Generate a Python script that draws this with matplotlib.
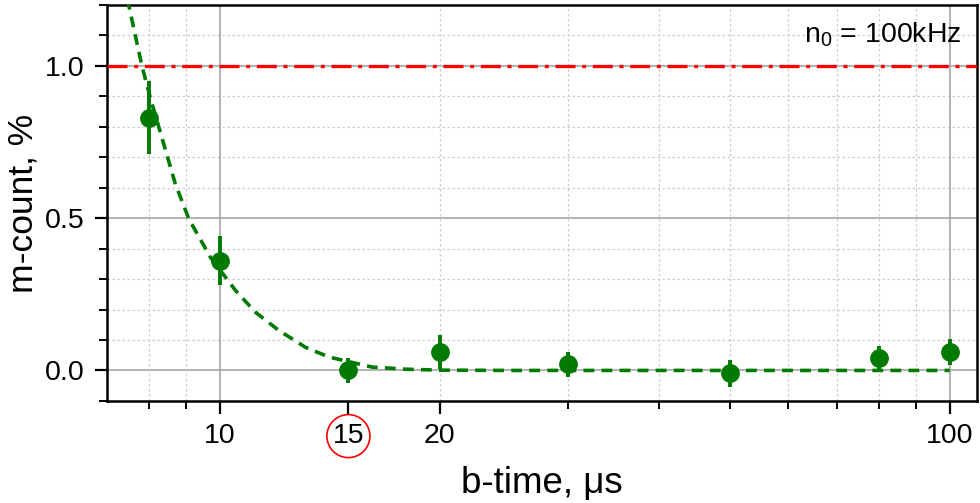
import numpy as np
import matplotlib
matplotlib.use("Agg")
import matplotlib.pyplot as plt
from matplotlib.ticker import FixedLocator, NullFormatter, MultipleLocator

plt.rcParams['font.family'] = ['Liberation Sans', 'DejaVu Sans']
plt.rcParams['mathtext.default'] = 'regular'

# measured points
b_time = [8, 10, 15, 20, 30, 50, 80, 100]
m_count = [0.83, 0.36, 0.0, 0.06, 0.02, -0.01, 0.04, 0.06]
m_err = [0.12, 0.08, 0.04, 0.055, 0.04, 0.045, 0.04, 0.042]

# fit curve
fit_x = [7.45, 7.5, 7.82, 8.03, 8.69, 9.07, 9.71, 10.51, 11.19, 12.05, 13.1,
         14.11, 16.16, 18, 20, 25, 30, 40, 60, 100]
fit_y = [1.23, 1.2, 1.0, 0.895, 0.612, 0.497, 0.371, 0.262, 0.191, 0.131, 0.076,
         0.044, 0.011, 0.004, 0.001, 0, 0, 0, 0, 0]

ref_level = 1.0
xtick_vals = [10, 15, 20, 100]
xminor_vals = [8, 9, 30, 40, 50, 60, 70, 80, 90]

fig = plt.figure(figsize=(9.8, 5.03), dpi=100)
ax = fig.add_axes([0.109, 0.203, 0.888, 0.787])

ax.set_xscale('log')
ax.set_xlim(7, 109)
ax.set_ylim(-0.1, 1.2)

# grid
for xv in [10, 100]:
    ax.axvline(xv, color='#a6a6a6', lw=1.2, zorder=1)
for xv in xminor_vals + [20]:
    ax.axvline(xv, color='#cccccc', lw=0.9, ls=(0, (2, 2)), zorder=1)
ax.yaxis.set_major_locator(FixedLocator([0, 0.5, 1.0]))
ax.yaxis.set_minor_locator(MultipleLocator(0.1))
ax.grid(True, axis='y', which='major', color='#a6a6a6', lw=1.2, zorder=1)
ax.grid(True, axis='y', which='minor', color='#cccccc', lw=0.9, ls=(0, (2, 2)), zorder=1)
ax.set_axisbelow(True)

ax.axhline(ref_level, color='#ff0000', lw=2.4, ls=(0, (6, 2, 1.2, 2)), zorder=3)

ax.plot(fit_x, fit_y, color='#007a00', lw=2.6, ls=(0, (3, 2)), zorder=4)
ax.errorbar(b_time, m_count, yerr=m_err, fmt='o', color='#007a00', ms=12.5,
            elinewidth=2.8, capsize=0, zorder=5)

# ticks
ax.xaxis.set_major_locator(FixedLocator(xtick_vals))
ax.xaxis.set_minor_locator(FixedLocator(xminor_vals))
ax.xaxis.set_minor_formatter(NullFormatter())
ax.set_xticklabels([str(v) for v in xtick_vals])
ax.set_yticklabels(['0.0', '0.5', '1.0'])
ax.tick_params(which='major', direction='out', length=9, width=1.6, labelsize=20.5,
               top=False, right=False, pad=7)
ax.tick_params(which='minor', direction='out', length=6, width=1.4,
               top=False, right=False)
for s in ax.spines.values():
    s.set_linewidth(1.8)
    s.set_color('black')

for lab in ax.get_xticklabels():
    if lab.get_text() == '15':
        lab.set_bbox(dict(boxstyle='circle,pad=0.2', ec='red', fc='none', lw=1.2))

ax.set_xlabel('b-time, μs', fontsize=26.5, labelpad=12)
ax.set_ylabel('m-count, %', fontsize=25.5, labelpad=4)

ax.text(0.982, 0.96, 'n$_0$ = 100kHz', transform=ax.transAxes, ha='right',
        va='top', fontsize=20.5)

fig.savefig('out.png', dpi=100)
